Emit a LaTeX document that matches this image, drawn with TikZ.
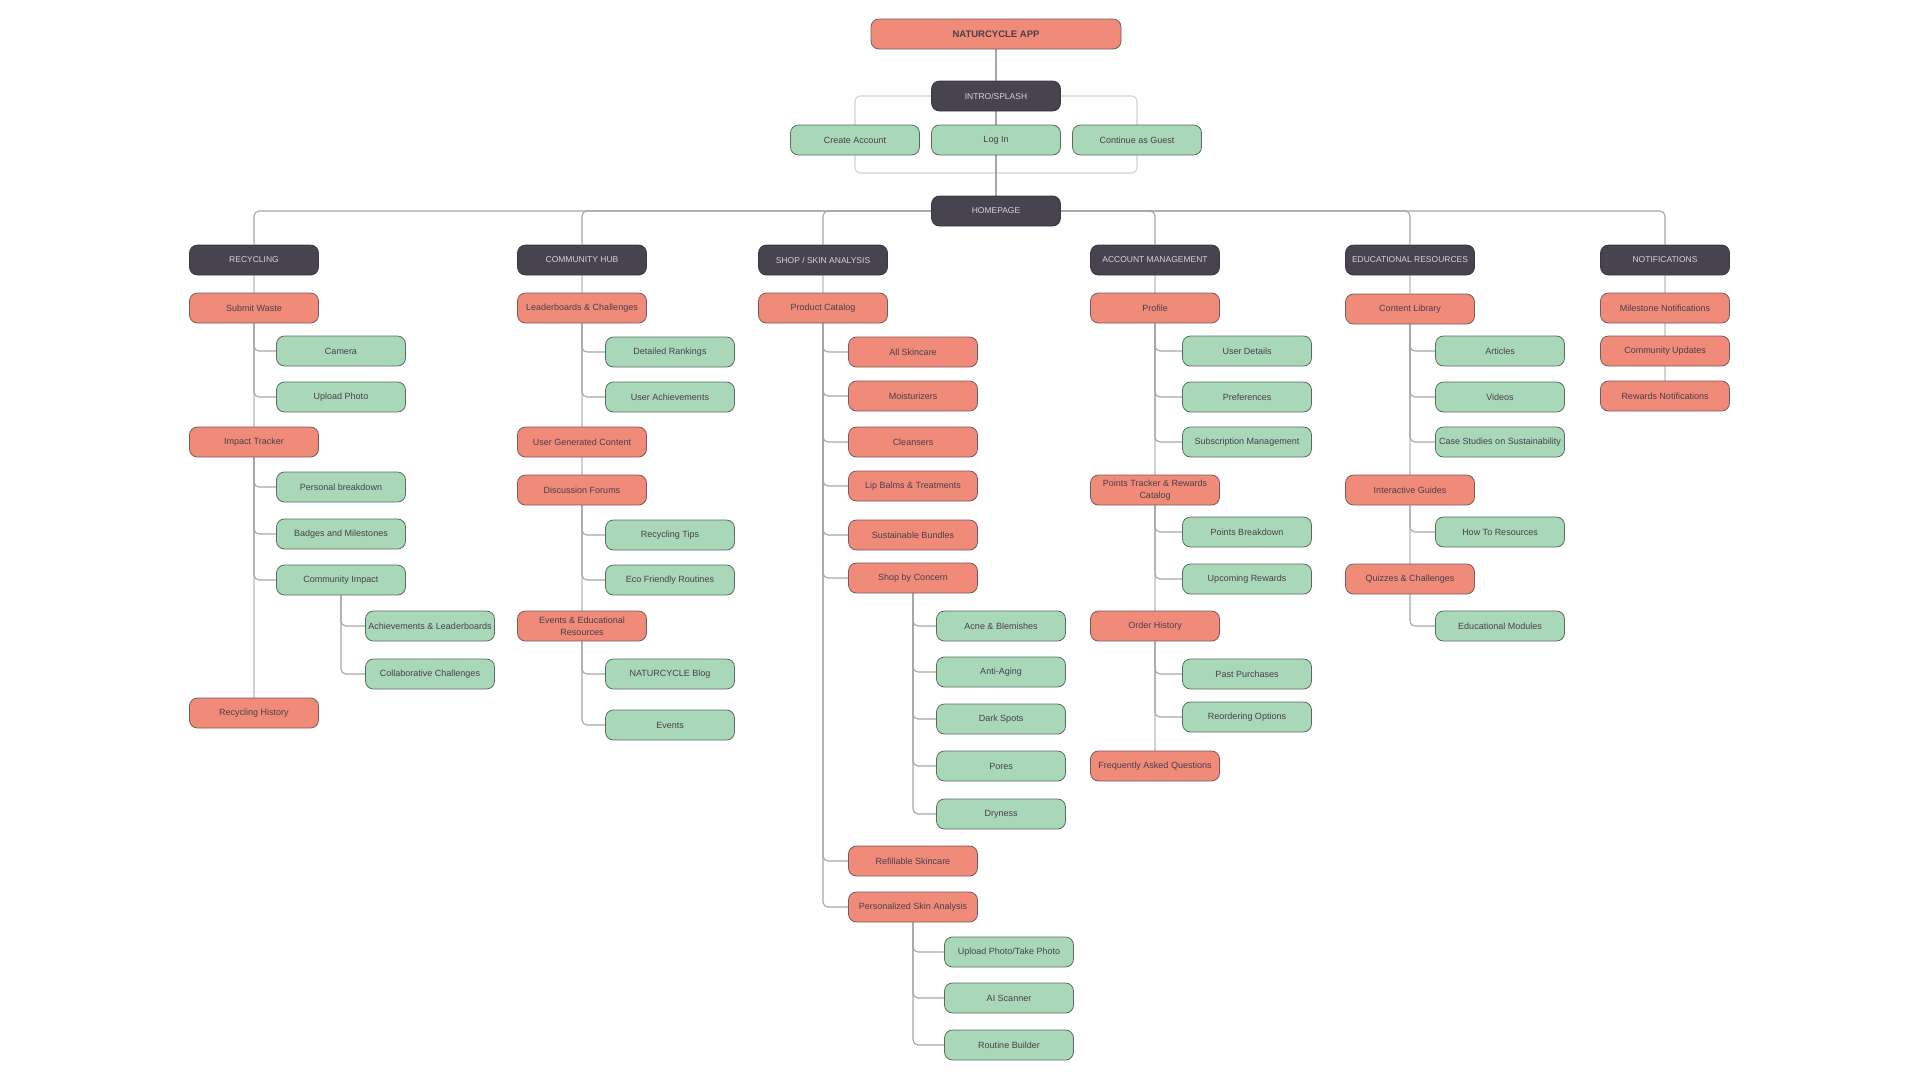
\documentclass[tikz,border=0pt]{standalone}
\usepackage{fontspec}
\setmainfont{Liberation Sans}
\usepackage{tikz}
\usetikzlibrary{positioning,backgrounds}

\definecolor{salmon}{HTML}{F08A79}
\definecolor{salmonline}{HTML}{7A5A5C}
\definecolor{mint}{HTML}{A8D8B8}
\definecolor{mintline}{HTML}{5C6B62}
\definecolor{slate}{HTML}{47444F}
\definecolor{slateline}{HTML}{3A3841}
\definecolor{headtext}{HTML}{D6D2DC}
\definecolor{ink}{HTML}{4A3F4B}

\begin{document}
\begin{tikzpicture}[x=1pt,y=-1pt,
  head/.style={draw=slateline,fill=slate,rounded corners=8pt,line width=0.8pt,
               minimum width=129pt,minimum height=30pt,align=center,
               font=\fontsize{8.5}{10}\selectfont,text=headtext},
  page/.style={draw=salmonline,fill=salmon,rounded corners=8pt,line width=0.8pt,
               minimum width=129pt,minimum height=30pt,align=center,inner sep=1pt,
               font=\fontsize{9}{12}\selectfont,text=ink},
  leaf/.style={page,draw=mintline,fill=mint},
  root/.style={page,minimum width=250pt,font=\fontsize{9.5}{11}\selectfont\bfseries},
  conn/.style={draw=gray!70,line width=1.1pt,rounded corners=5pt},
  trunk/.style={draw=gray!35,line width=1.1pt}
]
\useasboundingbox (0,0) rectangle (1920,1080);

% top of the map
\node[root] (app) at (996,34) {NATURCYCLE APP};
\node[head] (intro) at (996,96) {INTRO/SPLASH};
\node[leaf] (create) at (855,140) {Create Account};
\node[leaf] (login) at (996,140) {Log In};
\node[leaf] (guest) at (1137,140) {Continue as Guest};
\coordinate (merge) at (996,173);
\node[head] (home) at (996,211) {HOMEPAGE};

% sections
\node[head] (recyc) at (254,260) {RECYCLING};
\node[head] (comhub) at (582,260) {COMMUNITY HUB};
\node[head] (shop) at (823,260) {SHOP / SKIN ANALYSIS};
\node[head] (acct) at (1155,260) {ACCOUNT MANAGEMENT};
\node[head] (edu) at (1410,260) {EDUCATIONAL RESOURCES};
\node[head] (notif) at (1665,260) {NOTIFICATIONS};

% recycling
\node[page] (subwaste) at (254,308) {Submit Waste};
\node[leaf] (camera) at (341,351) {Camera};
\node[leaf] (upload) at (341,397) {Upload Photo};
\node[page] (impact) at (254,442) {Impact Tracker};
\node[leaf] (personal) at (341,487) {Personal breakdown};
\node[leaf] (badges) at (341,534) {Badges and Milestones};
\node[leaf] (commimpact) at (341,580) {Community Impact};
\node[leaf] (achieve) at (430,626) {Achievements \& Leaderboards};
\node[leaf] (collab) at (430,674) {Collaborative Challenges};
\node[page] (rechist) at (254,713) {Recycling History};

% community hub
\node[page] (leader) at (582,308) {Leaderboards \& Challenges};
\node[leaf] (ranks) at (670,352) {Detailed Rankings};
\node[leaf] (userach) at (670,397) {User Achievements};
\node[page] (ugc) at (582,442) {User Generated Content};
\node[page] (forums) at (582,490) {Discussion Forums};
\node[leaf] (tips) at (670,535) {Recycling Tips};
\node[leaf] (routines) at (670,580) {Eco Friendly Routines};
\node[page] (events) at (582,626) {Events \& Educational\\Resources};
\node[leaf] (blog) at (670,674) {NATURCYCLE Blog};
\node[leaf] (evts) at (670,725) {Events};

% shop / skin analysis
\node[page] (catalog) at (823,308) {Product Catalog};
\node[page] (allskin) at (913,352) {All Skincare};
\node[page] (moist) at (913,396) {Moisturizers};
\node[page] (cleans) at (913,442) {Cleansers};
\node[page] (lip) at (913,486) {Lip Balms \& Treatments};
\node[page] (bundles) at (913,535) {Sustainable Bundles};
\node[page] (concern) at (913,578) {Shop by Concern};
\node[leaf] (acne) at (1001,626) {Acne \& Blemishes};
\node[leaf] (aging) at (1001,672) {Anti-Aging};
\node[leaf] (dark) at (1001,719) {Dark Spots};
\node[leaf] (pores) at (1001,766) {Pores};
\node[leaf] (dry) at (1001,814) {Dryness};
\node[page] (refill) at (913,861) {Refillable Skincare};
\node[page] (skinan) at (913,907) {Personalized Skin Analysis};
\node[leaf] (photo) at (1009,952) {Upload Photo/Take Photo};
\node[leaf] (scanner) at (1009,998) {AI Scanner};
\node[leaf] (routine) at (1009,1045) {Routine Builder};

% account management
\node[page] (profile) at (1155,308) {Profile};
\node[leaf] (details) at (1247,351) {User Details};
\node[leaf] (prefs) at (1247,397) {Preferences};
\node[leaf] (subs) at (1247,442) {Subscription Management};
\node[page] (points) at (1155,490) {Points Tracker \& Rewards\\Catalog};
\node[leaf] (breakdown) at (1247,532) {Points Breakdown};
\node[leaf] (upcoming) at (1247,579) {Upcoming Rewards};
\node[page] (orders) at (1155,626) {Order History};
\node[leaf] (past) at (1247,674) {Past Purchases};
\node[leaf] (reorder) at (1247,717) {Reordering Options};
\node[page] (faq) at (1155,766) {Frequently Asked Questions};

% educational resources
\node[page] (library) at (1410,309) {Content Library};
\node[leaf] (articles) at (1500,351) {Articles};
\node[leaf] (videos) at (1500,397) {Videos};
\node[leaf] (cases) at (1500,442) {Case Studies on Sustainability};
\node[page] (guides) at (1410,490) {Interactive Guides};
\node[leaf] (howto) at (1500,532) {How To Resources};
\node[page] (quizzes) at (1410,579) {Quizzes \& Challenges};
\node[leaf] (modules) at (1500,626) {Educational Modules};

% notifications
\node[page] (milestone) at (1665,308) {Milestone Notifications};
\node[page] (comupd) at (1665,351) {Community Updates};
\node[page] (rewards) at (1665,396) {Rewards Notifications};

\begin{scope}[on background layer]
  % entry flow
  \draw[conn] (app) -- (intro);
  \draw[trunk,rounded corners=5pt] (intro.west) -| (create.north);
  \draw[trunk,rounded corners=5pt] (intro.east) -| (guest.north);
  \draw[conn] (intro) -- (login);
  \draw[trunk,rounded corners=5pt] (create.south) |- (merge) -| (guest.south);
  \draw[conn] (login) -- (home);
  % bus to the sections
  \foreach \s in {recyc,comhub,shop}
    \draw[conn] (home.west) -| (\s.north);
  \foreach \s in {acct,edu,notif}
    \draw[conn] (home.east) -| (\s.north);
  % section spines
  \foreach \a/\b in {recyc/subwaste,subwaste/impact,impact/rechist,
                     comhub/leader,leader/ugc,ugc/forums,forums/events,
                     shop/catalog,
                     acct/profile,profile/points,points/orders,orders/faq,
                     edu/library,library/guides,guides/quizzes,
                     notif/milestone,milestone/comupd,comupd/rewards}
    \draw[trunk] (\a) -- (\b);
  % branches
  \foreach \p/\c in {subwaste/camera,subwaste/upload,
                     impact/personal,impact/badges,impact/commimpact,
                     commimpact/achieve,commimpact/collab,
                     leader/ranks,leader/userach,
                     forums/tips,forums/routines,
                     events/blog,events/evts,
                     catalog/allskin,catalog/moist,catalog/cleans,catalog/lip,
                     catalog/bundles,catalog/concern,catalog/refill,catalog/skinan,
                     concern/acne,concern/aging,concern/dark,concern/pores,concern/dry,
                     skinan/photo,skinan/scanner,skinan/routine,
                     profile/details,profile/prefs,profile/subs,
                     points/breakdown,points/upcoming,
                     orders/past,orders/reorder,
                     library/articles,library/videos,library/cases,
                     guides/howto,quizzes/modules}
    \draw[conn] (\p.south) |- (\c.west);
\end{scope}
\end{tikzpicture}
\end{document}
